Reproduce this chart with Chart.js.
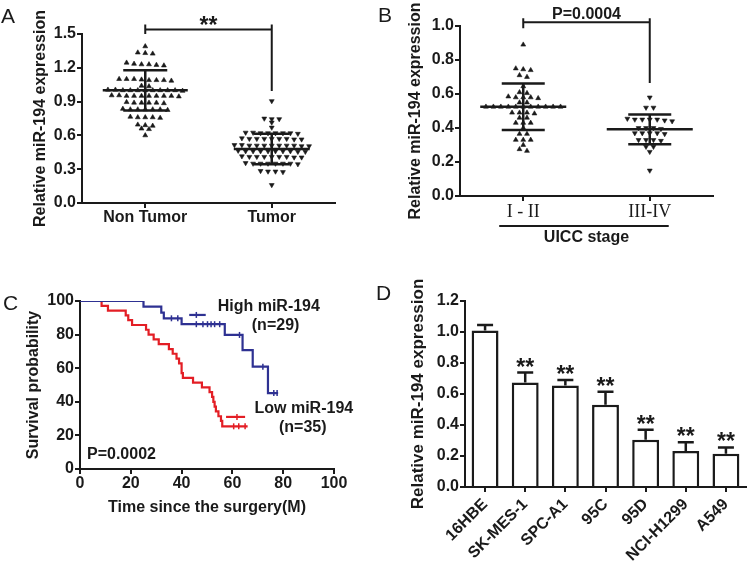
<!DOCTYPE html>
<html><head><meta charset="utf-8">
<script src="https://cdn.jsdelivr.net/npm/chart.js@4.4.1/dist/chart.umd.min.js"></script>
<style>
html,body{margin:0;padding:0;background:#fff;}
body{position:relative;width:747px;height:572px;overflow:hidden;}
canvas{position:absolute;}
.panel{position:absolute;font:21px 'Liberation Sans',Arial,sans-serif;line-height:21px;color:#1a1a1a;}
</style></head><body>
<canvas id="cA" width="373" height="280" style="left:0px;top:0px"></canvas>
<canvas id="cB" width="374" height="280" style="left:373px;top:0px"></canvas>
<canvas id="cC" width="373" height="292" style="left:0px;top:280px"></canvas>
<canvas id="cD" width="374" height="310" style="left:373px;top:262px"></canvas>
<div class="panel" style="left:1px;top:5px">A</div>
<div class="panel" style="left:378px;top:4px">B</div>
<div class="panel" style="left:3px;top:292px">C</div>
<div class="panel" style="left:376px;top:282px">D</div>
<script>
// ================= DATA =================
// Panel A
const catA = ['Non Tumor', 'Tumor'];
const nonTumor = [1.39,
  1.335, 1.33, 1.325,
  1.245, 1.235, 1.23, 1.23, 1.225, 1.22,
  1.10, 1.10, 1.095, 1.09, 1.09, 1.09, 1.085, 1.10,
  1.04, 1.035,
  1.005, 1.00, 1.00, 1.00, 1.00, 1.00, 1.00, 1.00, 0.995, 1.00, 1.005,
  0.955, 0.95, 0.95, 0.95, 0.95, 0.945, 0.95, 0.95, 0.95, 0.955,
  0.895, 0.89, 0.89, 0.89, 0.885, 0.89,
  0.83, 0.83, 0.83, 0.83, 0.825, 0.83, 0.835,
  0.765, 0.76, 0.76, 0.76, 0.755,
  0.695, 0.69, 0.685,
  0.66, 0.655,
  0.60];
const tumor = [0.905,
  0.75, 0.745, 0.745,
  0.715,
  0.67,
  0.625, 0.62, 0.62, 0.62, 0.615, 0.62, 0.625, 0.62,
  0.57, 0.57, 0.565, 0.57, 0.575, 0.57, 0.57, 0.565, 0.57,
  0.51, 0.51, 0.515, 0.51, 0.505, 0.51, 0.51, 0.51, 0.515, 0.51, 0.505,
  0.46, 0.46, 0.455, 0.46, 0.465, 0.46, 0.46, 0.455, 0.46, 0.46,
  0.41, 0.41, 0.405, 0.41, 0.415, 0.41, 0.41, 0.405, 0.41,
  0.35, 0.35, 0.345, 0.35, 0.355, 0.35, 0.35, 0.35,
  0.28, 0.285, 0.28, 0.275,
  0.16];
const meanA = [1.00, 0.48];
const sdA = [0.178, 0.135];
const yTicksA = [0, 0.3, 0.6, 0.9, 1.2, 1.5];
const yLabelsA = ['0.0', '0.3', '0.6', '0.9', '1.2', '1.5'];
const sigA = '**';

// Panel B
const catB = ['I - II', 'III-IV'];
const stageEarly = [0.89,
  0.75, 0.745, 0.74,
  0.71, 0.70,
  0.645,
  0.61, 0.605,
  0.585, 0.58, 0.58, 0.58, 0.575,
  0.55, 0.55,
  0.525, 0.525, 0.525, 0.525, 0.525, 0.525, 0.525, 0.525, 0.525, 0.525, 0.525,
  0.49, 0.49, 0.485, 0.49,
  0.46, 0.46,
  0.43, 0.43, 0.43,
  0.40,
  0.365, 0.365,
  0.33, 0.33, 0.33,
  0.30,
  0.275, 0.265];
const stageLate = [0.58,
  0.52, 0.52,
  0.455, 0.45, 0.45, 0.45, 0.45, 0.445, 0.44,
  0.40, 0.40, 0.40, 0.395,
  0.37, 0.37, 0.365, 0.37, 0.37,
  0.33, 0.33, 0.325, 0.33,
  0.29, 0.29,
  0.26,
  0.15];
const meanB = [0.525, 0.392];
const sdB = [0.137, 0.088];
const yTicksB = [0, 0.2, 0.4, 0.6, 0.8, 1.0];
const yLabelsB = ['0.0', '0.2', '0.4', '0.6', '0.8', '1.0'];
const pB = 'P=0.0004';
const groupTitleB = 'UICC stage';

// Panel C (Kaplan-Meier)
const highT = [0, 25, 32, 33, 40, 57, 64, 68, 74, 78];
const highS = [100, 96.6, 93.1, 89.7, 86.2, 79.8, 70.8, 60.9, 45.2, 45.2];
const highCensor = [36, 38.5, 45.8, 48.4, 50.2, 51.6, 53, 55, 62.8, 72, 76.3, 77.6];
const highExtraT = [43, 49.5];
const highExtraS = [91.7, 91.7];
const highExtraCensor = [45.8];
const lowT = [0, 8.5, 11, 18, 19, 20.5, 26, 27, 29, 31, 35, 36.5, 38, 39, 40, 40.5, 44.5, 48, 51, 52, 52.5, 53, 53.5, 54.5, 55.5, 56, 66];
const lowS = [100, 97.1, 94.3, 91.4, 88.6, 85.7, 82.9, 80.0, 77.1, 74.3, 71.4, 68.6, 65.7, 62.9, 57.1, 54.3, 51.4, 48.6, 45.7, 42.9, 40.0, 37.1, 34.3, 31.4, 28.6, 25.4, 25.4];
const lowCensor = [60.5, 62.5, 65];
const lowExtraT = [57.5, 65];
const lowExtraS = [31, 31];
const lowExtraCensor = [61.8];
const xTicksC = [0, 20, 40, 60, 80, 100];
const yTicksC = [0, 20, 40, 60, 80, 100];
const xLabelsC = ['0', '20', '40', '60', '80', '100'];
const yLabelsC = ['0', '20', '40', '60', '80', '100'];
const groupNamesC = ['High miR-194', 'Low miR-194'];
const groupNC = ['(n=29)', '(n=35)'];
const pC = 'P=0.0002';

// Panel D
const cellLines = ['16HBE', 'SK-MES-1', 'SPC-A1', '95C', '95D', 'NCI-H1299', 'A549'];
const exprD = [1.01, 0.675, 0.655, 0.53, 0.305, 0.232, 0.215];
const errD = [0.035, 0.063, 0.035, 0.085, 0.065, 0.056, 0.04];
const sigD = ['', '**', '**', '**', '**', '**', '**'];
const yTicksD = [0, 0.2, 0.4, 0.6, 0.8, 1.0, 1.2];
const yLabelsD = ['0.0', '0.2', '0.4', '0.6', '0.8', '1.0', '1.2'];

const yTitle = 'Relative miR-194 expression';

// ================= STYLE =================
const INK = '#1a1a1a', BLUE = '#2e3192', RED = '#e31e25';
const FONT = "'Liberation Sans', Arial, Helvetica, sans-serif";
Chart.defaults.font.family = FONT;
Chart.defaults.font.size = 16;
Chart.defaults.font.weight = 'bold';
Chart.defaults.color = INK;
Chart.defaults.animation = false;
Chart.defaults.responsive = false;
Chart.defaults.devicePixelRatio = 1;
Chart.defaults.plugins.legend.display = false;
Chart.defaults.plugins.tooltip.enabled = false;

function axis(o) {
  const cfg = {
    type: o.type || 'linear',
    min: o.min, max: o.max,
    grid: {display: true, drawOnChartArea: false, drawTicks: true, tickLength: 5, color: INK, lineWidth: 2, offset: false},
    border: {display: true, color: INK, width: 2},
    ticks: {color: INK, padding: o.pad != null ? o.pad : 1, autoSkip: false,
      maxRotation: o.rot || 0, minRotation: o.rot || 0,
      font: o.tickFont || {family: FONT, size: 16, weight: 'bold'}},
    afterFit: s => { if (o.fitW != null) s.width = o.fitW; if (o.fitH != null) s.height = o.fitH; }
  };
  if (o.ticks) {
    cfg.afterBuildTicks = s => { s.ticks = o.ticks.map(v => ({value: v})); };
    cfg.ticks.callback = (v, i) => o.labels[i];
  }
  if (o.title) cfg.title = {display: true, text: o.title, color: INK,
    font: {family: FONT, size: o.titleSize || 16, weight: 'bold'}, padding: o.titlePad};
  return cfg;
}

// beeswarm: rows of near-equal values spread symmetrically around the category
function swarm(values, cat, spacing, tol) {
  const sorted = values.slice().sort((a, b) => b - a);
  const rows = [];
  sorted.forEach(v => {
    const r = rows[rows.length - 1];
    if (r && r[0] - v <= tol + 1e-9) r.push(v); else rows.push([v]);
  });
  const pts = [];
  rows.forEach(r => r.forEach((v, k) => pts.push({x: cat + (k - (r.length - 1) / 2) * spacing, y: v})));
  return pts;
}
function summary(means, sds, mHalf, sHalf) {
  const pts = [];
  means.forEach((m, i) => {
    const s = sds[i];
    pts.push({x: i - mHalf[i], y: m}, {x: i + mHalf[i], y: m}, {x: i, y: null},
      {x: i - sHalf[i], y: m + s}, {x: i + sHalf[i], y: m + s}, {x: i, y: null},
      {x: i - sHalf[i], y: m - s}, {x: i + sHalf[i], y: m - s}, {x: i, y: null},
      {x: i, y: m - s}, {x: i, y: m + s}, {x: i, y: null});
  });
  return pts;
}
function bracket(c) {
  return {id: 'bracket', afterDraw(chart) {
    const {ctx} = chart, xs = chart.scales.x, ys = chart.scales.y;
    const x1 = xs.getPixelForValue(c.from), x2 = xs.getPixelForValue(c.to), yb = ys.getPixelForValue(c.y);
    ctx.save(); ctx.strokeStyle = INK; ctx.lineWidth = 2; ctx.beginPath();
    ctx.moveTo(x1, yb - c.rise); ctx.lineTo(x1, ys.getPixelForValue(c.leftEnd));
    ctx.moveTo(x2, yb - c.rise); ctx.lineTo(x2, ys.getPixelForValue(c.rightEnd));
    ctx.moveTo(x1, yb); ctx.lineTo(x2, yb); ctx.stroke();
    ctx.fillStyle = INK; ctx.font = c.font; ctx.textAlign = 'center'; ctx.textBaseline = 'alphabetic';
    ctx.fillText(c.text, (x1 + x2) / 2, yb + c.textDy);
    ctx.restore();
  }};
}
function dotChart(id, cats, groups, means, sds, mHalf, sHalf, tol, yTicks, yLabels, yMax, fit, extraPlugins, xTickFont, xTitle) {
  const spacing = 0.059;
  const dsPts = groups.map((vals, i) => ({
    type: 'scatter', data: swarm(vals, i, spacing, tol), order: 1,
    pointStyle: 'triangle', pointRadius: 2.8, pointRotation: i === 0 ? 0 : 180,
    pointBackgroundColor: INK, pointBorderColor: INK, pointBorderWidth: 0.6
  }));
  const dsLines = {type: 'scatter', data: summary(means, sds, mHalf, sHalf), order: 0, showLine: true,
    spanGaps: false, borderColor: INK, borderWidth: 2.5, pointRadius: 0};
  return new Chart(document.getElementById(id), {
    type: 'scatter',
    data: {datasets: [dsLines, ...dsPts]},
    options: {
      layout: {padding: fit.padding},
      scales: {
        x: axis({min: -0.5, max: 1.5, ticks: [0, 1], labels: cats, fitH: fit.xH, pad: 0, tickFont: xTickFont,
          title: xTitle, titlePad: fit.xTitlePad}),
        y: axis({min: 0, max: yMax, ticks: yTicks, labels: yLabels, fitW: fit.yW, title: yTitle, titlePad: {top: fit.yTitlePad}})
      }
    },
    plugins: extraPlugins
  });
}

// ================= PANEL A =================
dotChart('cA', catA, [nonTumor, tumor], meanA, sdA, [0.336, 0.30], [0.174, 0.14], 0.028,
  yTicksA, yLabelsA, 1.5,
  {padding: {left: 0, top: 34, right: 38, bottom: 0}, xH: 77, yW: 82, yTitlePad: 31},
  [bracket({from: 0, to: 1, y: 1.541, leftEnd: 1.5, rightEnd: 0.994, rise: 5, text: sigA,
    font: 'bold 23px ' + FONT, textDy: 4})]);

// ================= PANEL B =================
const underlineB = {id: 'underline', afterDraw(chart) {
  const {ctx} = chart, xs = chart.scales.x;
  ctx.save(); ctx.strokeStyle = INK; ctx.lineWidth = 2; ctx.beginPath();
  ctx.moveTo(xs.getPixelForValue(-0.19), xs.top + 30); ctx.lineTo(xs.getPixelForValue(1.15), xs.top + 30);
  ctx.stroke(); ctx.restore();
}};
dotChart('cB', catB, [stageEarly, stageLate], meanB, sdB, [0.34, 0.34], [0.17, 0.17], 0.018,
  yTicksB, yLabelsB, 1.0,
  {padding: {left: 0, top: 26, right: 34, bottom: 0}, xH: 84, yW: 87, yTitlePad: 33, xTitlePad: {top: 0, bottom: 32.4}},
  [bracket({from: 0, to: 1, y: 1.022, leftEnd: 0.987, rightEnd: 0.665, rise: 4, text: pB,
    font: 'bold 16px ' + FONT, textDy: -3}), underlineB],
  {family: "'Liberation Serif', 'Times New Roman', serif", size: 18, weight: 'normal'}, groupTitleB);

// ================= PANEL C =================
function survAt(ts, ss, t) { let v = ss[0]; ts.forEach((x, i) => { if (x <= t) v = ss[i]; }); return v; }
function curve(ts, ss) { return ts.map((t, i) => ({x: t, y: ss[i]})); }
function ticksAt(cens, ts, ss) { return cens.map(t => ({x: t, y: survAt(ts, ss, t)})); }
const kmLine = (data, color) => ({data, borderColor: color, borderWidth: 2.2, pointRadius: 0, stepped: true, clip: 0, fill: false});
const kmTicks = (data, color) => ({data, showLine: false, pointStyle: 'line', pointRadius: 3, pointRotation: 90,
  pointBorderColor: color, pointBackgroundColor: color, pointBorderWidth: 1.5, clip: 0});
const textsC = {id: 'textsC', afterDraw(chart) {
  const {ctx} = chart, xs = chart.scales.x, ys = chart.scales.y;
  const items = [
    [groupNamesC[0], 54.2, 96.4, 'left'], [groupNC[0], 77.0, 85.1, 'center'],
    [groupNamesC[1], 68.7, 35.7, 'left'], [groupNC[1], 87.7, 24.4, 'center'],
    [pC, 2.75, 8.3, 'left']];
  ctx.save(); ctx.fillStyle = INK; ctx.font = 'bold 16px ' + FONT; ctx.textBaseline = 'middle';
  items.forEach(([t, x, y, a]) => { ctx.textAlign = a; ctx.fillText(t, xs.getPixelForValue(x), ys.getPixelForValue(y)); });
  ctx.restore();
}};
new Chart(document.getElementById('cC'), {
  type: 'line',
  data: {datasets: [
    kmLine(curve(highT, highS), BLUE),
    kmLine(curve(lowT, lowS), RED),
    kmLine(curve(highExtraT, highExtraS), BLUE),
    kmLine(curve(lowExtraT, lowExtraS), RED),
    kmTicks(ticksAt(highCensor, highT, highS), BLUE),
    kmTicks(ticksAt(lowCensor, lowT, lowS), RED),
    kmTicks(ticksAt(highExtraCensor, highExtraT, highExtraS), BLUE),
    kmTicks(ticksAt(lowExtraCensor, lowExtraT, lowExtraS), RED)
  ]},
  options: {
    layout: {padding: {left: 0, top: 21, right: 39, bottom: 0}},
    scales: {
      x: axis({min: 0, max: 100, ticks: xTicksC, labels: xLabelsC, fitH: 103, pad: 0,
        title: 'Time since the surgery(M)', titlePad: {top: 0, bottom: 54.7}}),
      y: axis({min: 0, max: 100, ticks: yTicksC, labels: yLabelsC, fitW: 80,
        title: 'Survival probability', titlePad: {top: 24}})
    }
  },
  plugins: [textsC]
});

// ================= PANEL D =================
const errPlugin = {id: 'err', afterDatasetsDraw(chart) {
  const {ctx} = chart, ys = chart.scales.y, meta = chart.getDatasetMeta(0);
  ctx.save(); ctx.strokeStyle = INK; ctx.lineWidth = 2.5; ctx.fillStyle = INK;
  meta.data.forEach((el, i) => {
    const y0 = ys.getPixelForValue(exprD[i]), y1 = ys.getPixelForValue(exprD[i] + errD[i]);
    ctx.beginPath(); ctx.moveTo(el.x, y0); ctx.lineTo(el.x, y1);
    ctx.moveTo(el.x - 8, y1); ctx.lineTo(el.x + 8, y1); ctx.stroke();
    if (sigD[i]) {
      ctx.font = 'bold 23px ' + FONT; ctx.textAlign = 'center'; ctx.textBaseline = 'alphabetic';
      ctx.fillText(sigD[i], el.x, y1 + 2);
    }
  });
  ctx.restore();
}};
new Chart(document.getElementById('cD'), {
  type: 'bar',
  data: {labels: cellLines, datasets: [{data: exprD, backgroundColor: '#ffffff', borderColor: INK, borderWidth: 2.5,
    barPercentage: 0.67, categoryPercentage: 1.0}]},
  options: {
    layout: {padding: {left: 0, top: 39, right: 1, bottom: 0}},
    scales: {
      x: axis({type: 'category', fitH: 85, rot: 45, pad: 3, tickFont: {family: FONT, size: 16, weight: 'bold'}}),
      y: axis({min: 0, max: 1.2, ticks: yTicksD, labels: yLabelsD, fitW: 92, title: yTitle, titleSize: 17, titlePad: {top: 35}})
    }
  },
  plugins: [errPlugin]
});
</script></body></html>
